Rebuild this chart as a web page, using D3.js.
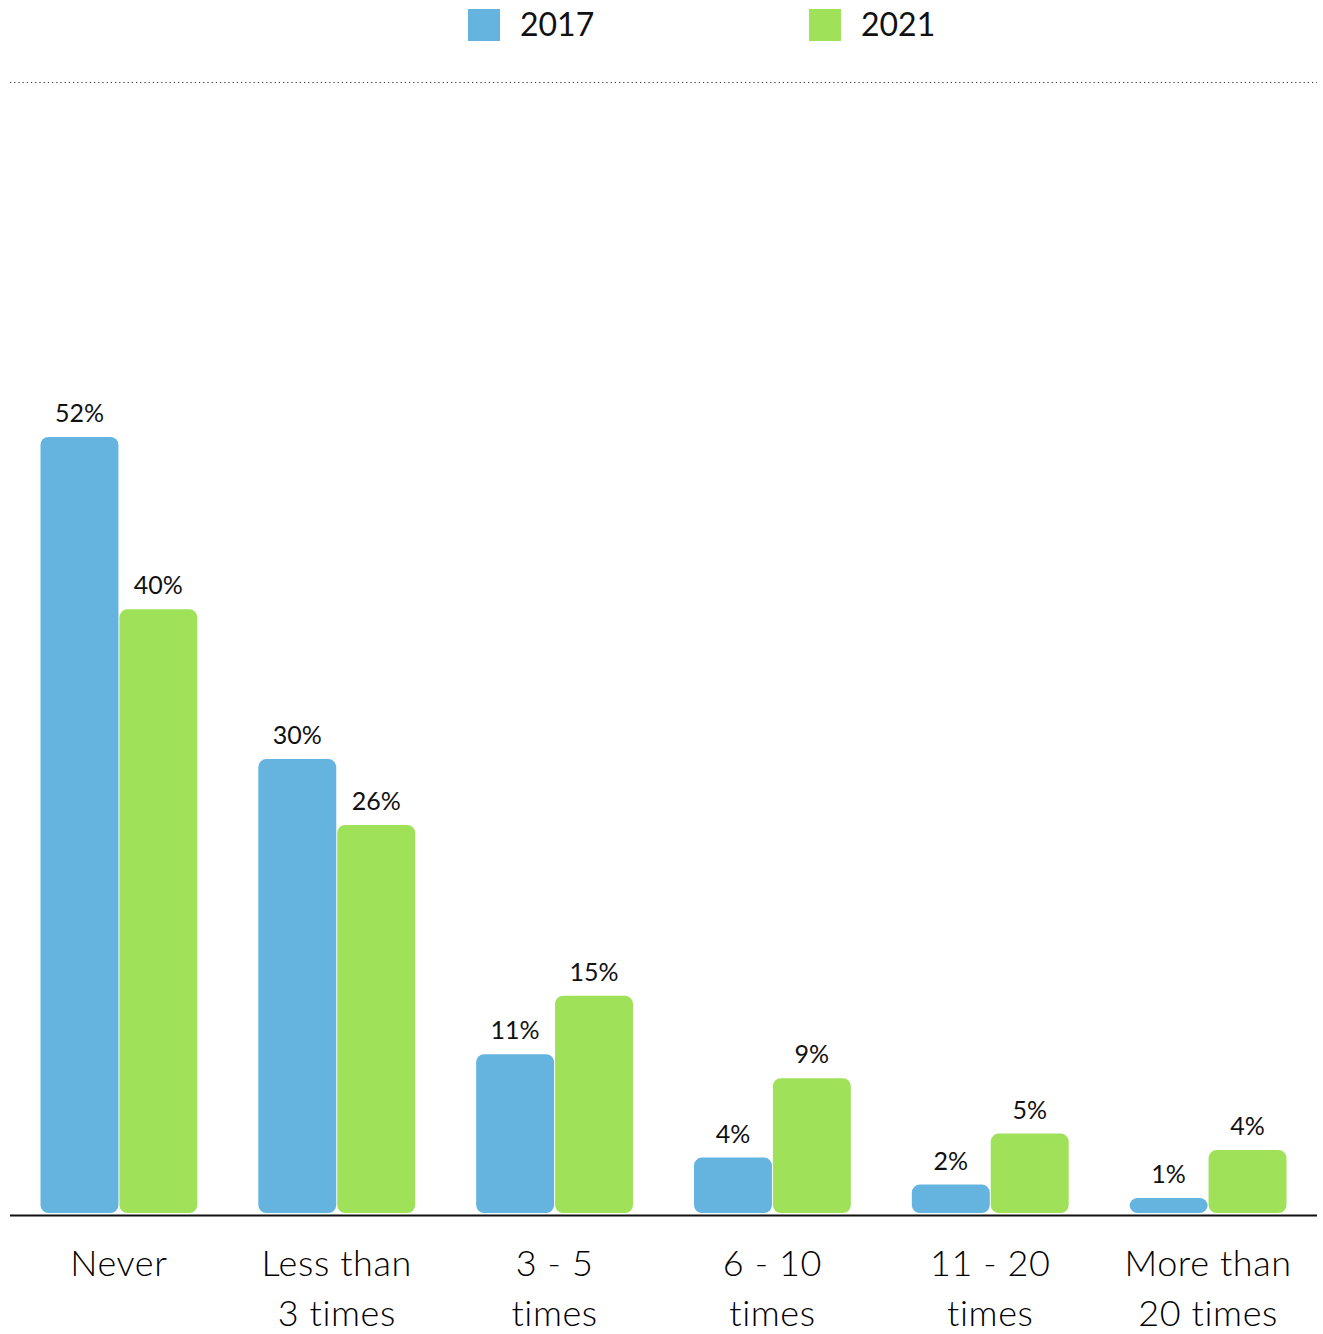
<!DOCTYPE html>
<html><head><meta charset="utf-8">
<script src="https://cdn.jsdelivr.net/npm/d3@7"></script>
<style>
html,body{margin:0;padding:0;background:#fff;}
svg{display:block;font-family:Lato,"Noto Sans",sans-serif;}
</style></head>
<body>
<svg id="chart" width="1323" height="1334"></svg>
<script>
const categories = [["Never"], ["Less than","3 times"], ["3 - 5","times"], ["6 - 10","times"], ["11 - 20","times"], ["More than","20 times"]];
const seriesNames = ["2017", "2021"];
const values2017 = [51.8, 30.3, 10.6, 3.7, 1.9, 1.0];
const values2021 = [40.3, 25.9, 14.5, 9.0, 5.3, 4.2];
const colors = ["#65b3df", "#a0e15a"];

(function(){
const svg = d3.select("#chart");
const left = 10, right = 1317, baseline = 1213, plotTop = 82;

const x0 = d3.scaleBand().domain(d3.range(categories.length)).range([left, right]).paddingInner(0.28).paddingOuter(0.14);
const x1 = d3.scaleBand().domain(seriesNames).range([0, x0.bandwidth()]).paddingInner(0.012);
const y = d3.scaleLinear().domain([0, 75.5]).range([baseline, plotTop]);

const data = categories.map((c, i) => ({i, vals: [values2017[i], values2021[i]]}));

// legend
const legX = [468, 809];
seriesNames.forEach((s, k) => {
  svg.append("rect").attr("x", legX[k]).attr("y", 9).attr("width", 32).attr("height", 32).attr("fill", colors[k]);
  svg.append("text").attr("x", legX[k] + 52).attr("y", 36).attr("font-size", 32).attr("font-weight", 400)
    .attr("fill", "#111").text(s);
});

// dotted line
svg.append("line").attr("x1", left).attr("x2", right).attr("y1", 82.5).attr("y2", 82.5)
  .attr("stroke", "#333").attr("stroke-width", 1.2).attr("stroke-dasharray", "1.2,3");

// bars
const g = svg.selectAll("g.grp").data(data).join("g").attr("class", "grp")
  .attr("transform", d => `translate(${x0(d.i)},0)`);
g.selectAll("rect").data(d => d.vals.map((v, k) => ({v, k}))).join("rect")
  .attr("x", d => x1(seriesNames[d.k]))
  .attr("width", x1.bandwidth())
  .attr("y", d => y(d.v))
  .attr("height", d => baseline - y(d.v))
  .attr("rx", 8).attr("ry", 8)
  .attr("fill", d => colors[d.k]);
g.selectAll("text.val").data(d => d.vals.map((v, k) => ({v, k}))).join("text").attr("class", "val")
  .attr("x", d => x1(seriesNames[d.k]) + x1.bandwidth() / 2)
  .attr("y", d => y(d.v) - 15)
  .attr("text-anchor", "middle").attr("font-size", 25).attr("font-weight", 400).attr("fill", "#111")
  .text(d => Math.round(d.v) + "%");

// axis
svg.append("line").attr("x1", left).attr("x2", right).attr("y1", 1215.5).attr("y2", 1215.5)
  .attr("stroke", "#111").attr("stroke-width", 1.8);

// category labels
const labels = svg.selectAll("text.cat").data(data).join("text").attr("class", "cat")
  .attr("text-anchor", "middle").attr("font-size", 36).attr("font-weight", 300)
  .attr("letter-spacing", 0.6).attr("fill", "#000");
labels.selectAll("tspan").data(d => categories[d.i].map(t => ({t, i: d.i}))).join("tspan")
  .attr("x", d => x0(d.i) + x0.bandwidth() / 2)
  .attr("y", (d, j) => 1276 + j * 50)
  .text(d => d.t);
})();
</script>
</body></html>
